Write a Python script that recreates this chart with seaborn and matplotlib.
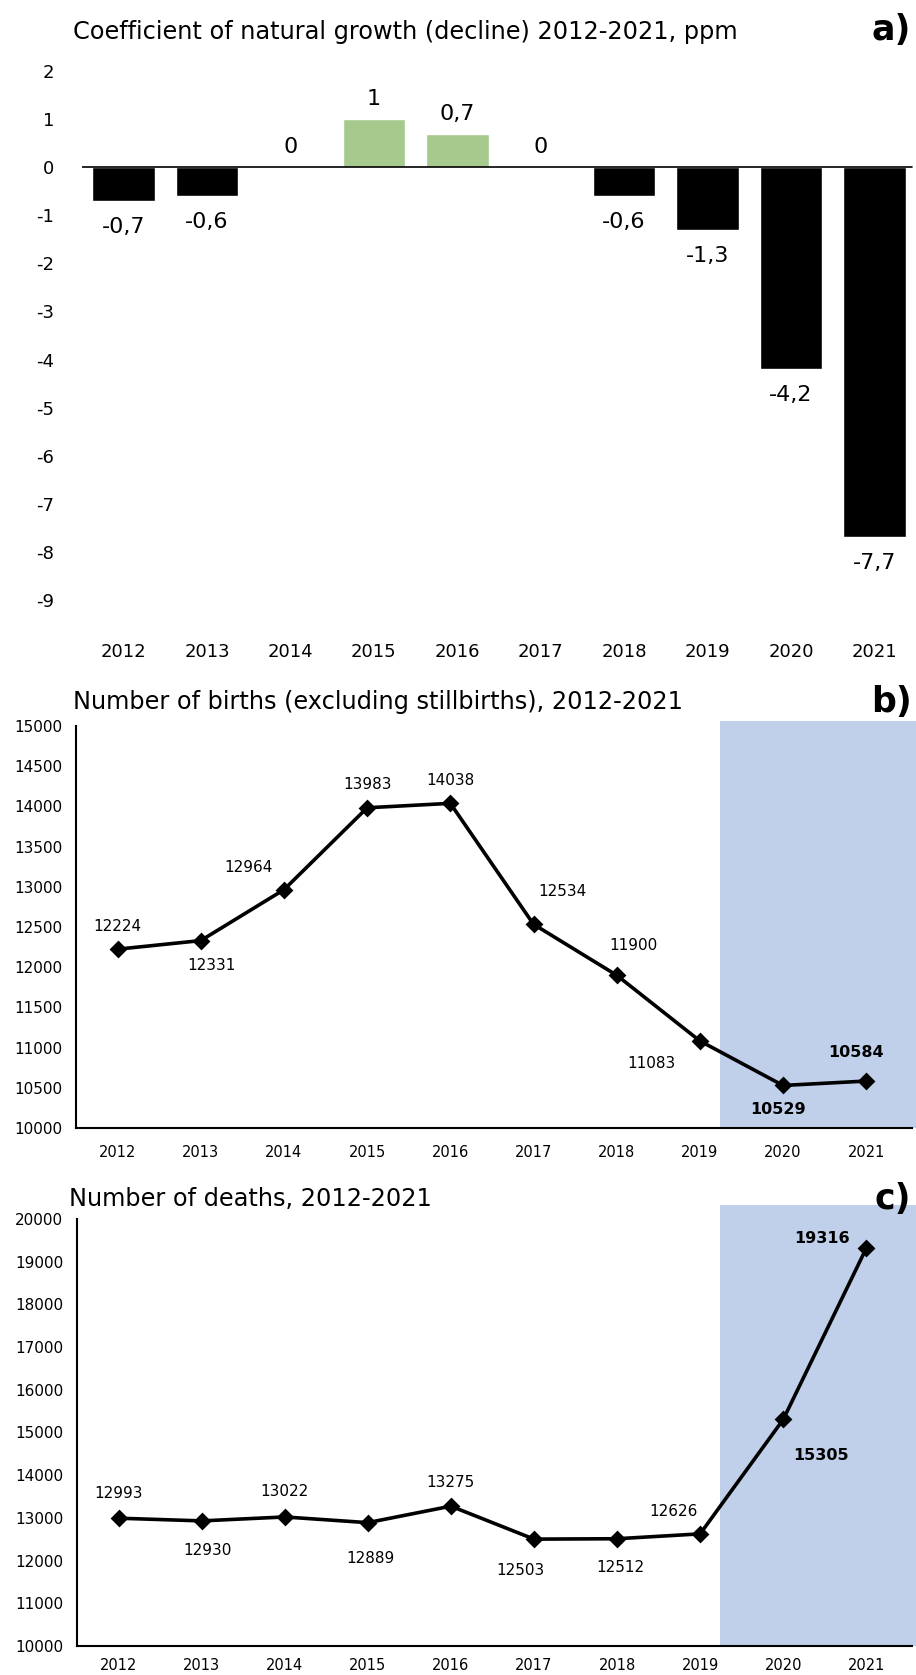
import matplotlib
matplotlib.use("Agg")
import matplotlib.pyplot as plt
import seaborn as sns
import pandas as pd

# data
years = ["2012", "2013", "2014", "2015", "2016", "2017", "2018", "2019", "2020", "2021"]
growth = [-0.7, -0.6, 0, 1, 0.7, 0, -0.6, -1.3, -4.2, -7.7]
births = [12224, 12331, 12964, 13983, 14038, 12534, 11900, 11083, 10529, 10584]
deaths = [12993, 12930, 13022, 12889, 13275, 12503, 12512, 12626, 15305, 19316]

# label offsets in pixels (dx, dy up)
births_off = [(0, 23), (11, -25), (-35, 22), (0, 23), (0, 23), (29, 33), (17, 30), (-48, -23), (-5, -24), (-10, 29)]
deaths_off = [(0, 25), (6, -30), (0, 25), (3, -36), (0, 24), (-14, -31), (3, -29), (-27, 22), (38, -36), (-44, 10)]

sns.set_style("white")
plt.rcParams["font.family"] = ["DejaVu Sans"]
plt.rcParams["axes.unicode_minus"] = False
plt.rcParams["text.color"] = "black"
plt.rcParams["xtick.color"] = "black"
plt.rcParams["ytick.color"] = "black"
plt.rcParams["axes.labelcolor"] = "black"

W, H = 916, 1675
fig = plt.figure(figsize=(W / 100, H / 100), dpi=100)

def box(l, t, r, b):
    return [l / W, 1 - b / H, (r - l) / W, (b - t) / H]

BLUE = "#c0d0ea"
GREEN = "#a6c98e"
TITLE_FS = 17.3

# ---------- a) bars ----------
ax_a = fig.add_axes(box(82, 71, 916, 600))
df_a = pd.DataFrame({"Year": years, "Value": growth})
pal = {y: (GREEN if v > 0 else "black") for y, v in zip(years, growth)}
sns.barplot(data=df_a, x="Year", y="Value", hue="Year", palette=pal, legend=False,
            width=0.75, ax=ax_a, saturation=1)
ax_a.axhline(0, color="black", lw=1.2, xmax=0.995)
ax_a.set_ylim(-9, 2)
ax_a.set_xlim(-0.5, 9.5)
ax_a.set_yticks(range(-9, 3))
ax_a.set_xlabel("")
ax_a.set_ylabel("")
for s in ax_a.spines.values():
    s.set_visible(False)
ax_a.tick_params(axis="y", length=0, pad=20, labelsize=13)
ax_a.tick_params(axis="x", length=0, pad=31, labelsize=13)
for i, v in enumerate(growth):
    txt = f"{v:g}".replace(".", ",")
    dy = -26 if v < 0 else 20
    ax_a.annotate(txt, (i, v), xytext=(0, dy), textcoords="offset pixels",
                  ha="center", va="center", fontsize=16)

fig.text(73 / W, 1 - 32 / H, "Coefficient of natural growth (decline) 2012-2021, ppm",
         fontsize=TITLE_FS, va="center", ha="left")
fig.text(891 / W, 1 - 30 / H, "a)", fontsize=25, fontweight="bold", va="center", ha="center")


def line_panel(ax, vals, offs, ymin, ymax, step, shade_top, pad_x):
    ax.axvspan(7.24, 9.6, ymin=0, ymax=shade_top, color=BLUE, lw=0, zorder=0, clip_on=False)
    sns.pointplot(x=years, y=vals, color="black", markers="D", markersize=7,
                  linewidth=2.6, ax=ax, zorder=3)
    ax.set_xlim(-0.5, 9.55)
    ax.set_ylim(ymin, ymax)
    ax.set_yticks(range(ymin, ymax + 1, step))
    ax.spines["top"].set_visible(False)
    ax.spines["right"].set_visible(False)
    for side in ["left", "bottom"]:
        ax.spines[side].set_color("black")
        ax.spines[side].set_linewidth(1.5)
        ax.spines[side].set_zorder(4)
    ax.tick_params(axis="y", length=0, pad=10, labelsize=11)
    ax.tick_params(axis="x", length=0, pad=pad_x, labelsize=10.5)
    ax.set_facecolor("none")
    for i, (v, (dx, dy)) in enumerate(zip(vals, offs)):
        bold = i >= 8
        ax.annotate(str(v), (i, v), xytext=(dx, dy), textcoords="offset pixels",
                    ha="center", va="center", fontsize=11.5 if bold else 11,
                    fontweight="bold" if bold else "normal", zorder=5)


# ---------- b) births ----------
ax_b = fig.add_axes(box(76, 726, 912, 1128))
line_panel(ax_b, births, births_off, 10000, 15000, 500, 1.012, 12)
fig.text(73 / W, 1 - 702 / H, "Number of births (excluding stillbirths), 2012-2021",
         fontsize=TITLE_FS, va="center", ha="left")
fig.text(891 / W, 1 - 702 / H, "b)", fontsize=25, fontweight="bold", va="center", ha="center")

# ---------- c) deaths ----------
ax_c = fig.add_axes(box(77, 1219, 912, 1646))
line_panel(ax_c, deaths, deaths_off, 10000, 20000, 1000, 1.033, 9)
fig.text(69 / W, 1 - 1199 / H, "Number of deaths, 2012-2021",
         fontsize=TITLE_FS, va="center", ha="left")
fig.text(893 / W, 1 - 1199 / H, "c)", fontsize=25, fontweight="bold", va="center", ha="center")

fig.savefig("out.png", dpi=100)
